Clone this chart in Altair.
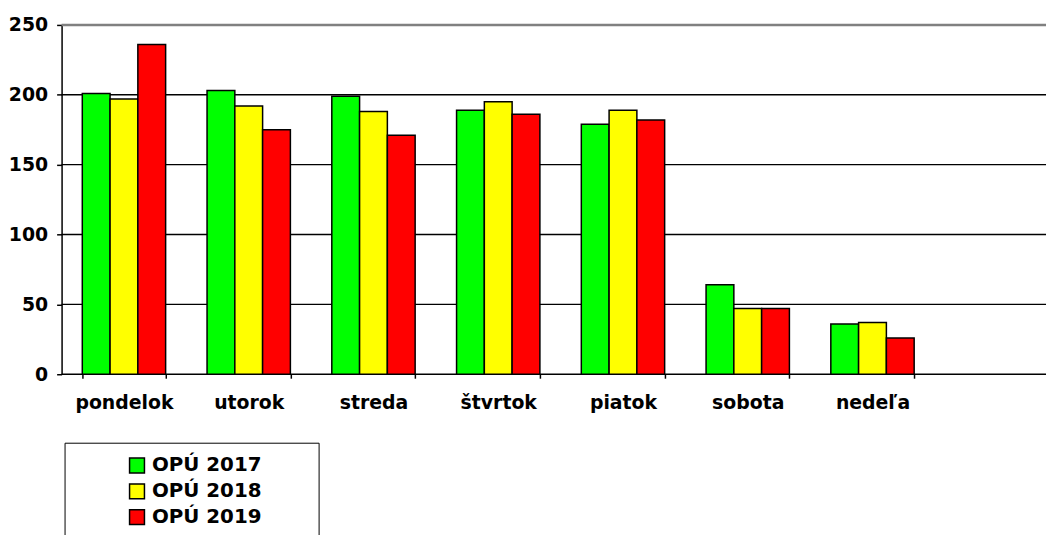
import altair as alt
import pandas as pd

days = ["pondelok", "utorok", "streda", "štvrtok", "piatok", "sobota", "nedeľa"]
series = ["OPÚ 2017", "OPÚ 2018", "OPÚ 2019"]
v2017 = [201, 203, 199, 189, 179, 64, 36]
v2018 = [197, 192, 188, 195, 189, 47, 37]
v2019 = [236, 175, 171, 186, 182, 47, 26]
colors = ["#00FF00", "#FFFF00", "#FF0000"]
y_ticks = [0, 50, 100, 150, 200, 250]

rows = []
for s, vals in zip(series, [v2017, v2018, v2019]):
    for d, v in zip(days, vals):
        rows.append({"den": d, "rok": s, "hodnota": v})
df = pd.DataFrame(rows)
grid_df = pd.DataFrame({"v": y_ticks})

FONT = "DejaVu Sans"
yscale = alt.Scale(domain=[0, 250], nice=False)
yaxis = alt.Axis(
    title=None, values=y_ticks, domain=True, domainColor="black", domainWidth=1.5,
    tickSize=5, tickColor="black", tickWidth=1.5,
    labelFont=FONT, labelFontSize=19, labelFontWeight="bold", labelColor="black",
    labelPadding=9, minExtent=54, maxExtent=54, grid=False,
)

grid = alt.Chart(grid_df).mark_rule().encode(
    y=alt.Y("v:Q", scale=yscale, axis=yaxis),
    x=alt.value(0),
    x2=alt.value("width"),
    stroke=alt.condition(alt.datum.v == 250, alt.value("#808080"), alt.value("#000000")),
    strokeWidth=alt.condition(alt.datum.v == 250, alt.value(2.5), alt.value(1.4)),
)

bars = alt.Chart(df).mark_bar(stroke="black", strokeWidth=1.5).encode(
    x=alt.X(
        "den:N",
        sort=days,
        scale=alt.Scale(domain=days, range=[0, 880], paddingInner=0.332, paddingOuter=0.166),
        axis=alt.Axis(
            title=None, labelAngle=0, domain=False, grid=False,
            ticks=True, tickBand="extent", tickSize=4, tickColor="black", tickWidth=1.5,
            labelFont=FONT, labelFontSize=19, labelFontWeight="bold", labelColor="black",
            labelPadding=16,
        ),
    ),
    xOffset=alt.XOffset("rok:N", sort=series, scale=alt.Scale(paddingInner=0, paddingOuter=0)),
    y=alt.Y("hodnota:Q", scale=yscale, axis=yaxis),
    color=alt.Color(
        "rok:N",
        sort=series,
        scale=alt.Scale(domain=series, range=colors),
        legend=alt.Legend(
            orient="none", legendX=3, legendY=421, direction="vertical",
            title="\u2800", titleOrient="right", titleFontSize=12, titlePadding=34,
            titleColor="white",
            symbolType="square", symbolSize=225, symbolStrokeColor="black", symbolStrokeWidth=1.5,
            symbolOffset=50, labelOffset=5,
            labelFont=FONT, labelFontSize=20, labelFontWeight="bold", labelColor="black",
            rowPadding=4, padding=13,
            strokeColor="black", fillColor="white",
        ),
    ),
)

chart = alt.layer(grid, bars).properties(
    width=992, height=352,
    padding={"left": 0, "right": 0, "top": 6, "bottom": 0},
).configure(font=FONT, background="white").configure_view(stroke=None)

chart.save("out.html", embed_options={"renderer": "svg", "actions": False})
